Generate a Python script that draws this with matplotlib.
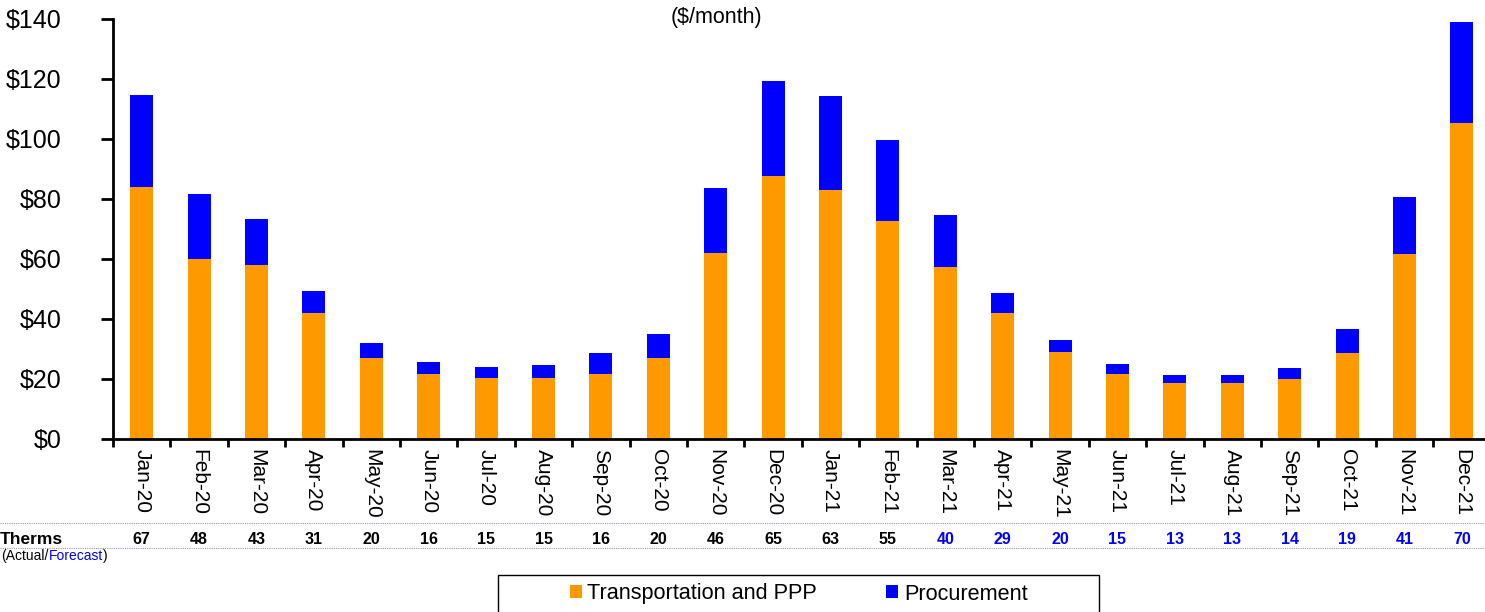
import matplotlib
matplotlib.use("Agg")
import matplotlib.pyplot as plt
from matplotlib.patches import Patch, Rectangle
from matplotlib.transforms import blended_transform_factory
from matplotlib.lines import Line2D

plt.rcParams['font.family'] = ['Liberation Sans', 'DejaVu Sans']

months = ["Jan-20", "Feb-20", "Mar-20", "Apr-20", "May-20", "Jun-20", "Jul-20", "Aug-20",
          "Sep-20", "Oct-20", "Nov-20", "Dec-20", "Jan-21", "Feb-21", "Mar-21", "Apr-21",
          "May-21", "Jun-21", "Jul-21", "Aug-21", "Sep-21", "Oct-21", "Nov-21", "Dec-21"]
transport = [84.0, 60.0, 58.0, 42.0, 27.0, 21.7, 20.3, 20.3, 21.7, 27.0, 62.0, 87.7,
             83.0, 72.7, 57.3, 41.9, 28.9, 21.6, 18.7, 18.7, 20.1, 28.8, 61.7, 105.4]
procurement = [30.7, 21.7, 15.3, 7.3, 5.0, 4.1, 3.8, 4.5, 6.9, 8.0, 21.7, 31.6,
               31.3, 27.0, 17.4, 6.7, 4.0, 3.3, 2.7, 2.5, 3.5, 7.8, 19.0, 33.6]
therms = [67, 48, 43, 31, 20, 16, 15, 15, 16, 20, 46, 65, 63, 55,
          40, 29, 20, 15, 13, 13, 14, 19, 41, 70]
is_forecast = [False] * 14 + [True] * 10
y_ticks = [0, 20, 40, 60, 80, 100, 120, 140]

ORANGE = "#FF9900"
BLUE = "#0000FF"
W, H = 1485, 612

fig = plt.figure(figsize=(W / 100, H / 100), dpi=100)
ax = fig.add_axes([113 / W, 1 - 439 / H, 1377.6 / W, 420 / H])

x = list(range(len(months)))
ax.bar(x, transport, width=0.40, color=ORANGE, zorder=2)
ax.bar(x, procurement, width=0.40, bottom=transport, color=BLUE, zorder=2)

ax.set_xlim(-0.5, len(months) - 0.5)
ax.set_ylim(0, 140)
ax.set_yticks(y_ticks)
ax.set_yticklabels([f"${v}" for v in y_ticks], fontsize=18)
ax.tick_params(axis='y', direction='out', length=9, width=2, pad=28)

# major ticks at category boundaries, labels at centers (minor)
ax.set_xticks([i - 0.5 for i in range(len(months) + 1)])
ax.set_xticklabels([])
ax.tick_params(axis='x', which='major', direction='out', length=6, width=2)
ax.set_xticks(x, minor=True)
ax.set_xticklabels(months, minor=True, rotation=-90, fontsize=15, ha='center', va='top')
ax.tick_params(axis='x', which='minor', length=0, pad=7)

for s in ['top', 'right']:
    ax.spines[s].set_visible(False)
ax.spines['left'].set_linewidth(2)
ax.spines['bottom'].set_linewidth(2)

# subtitle
fig.text(716 / W, 1 - 17 / H, "($/month)", fontsize=15.5, ha='center', va='center')

# Therms table row
for yy in (523, 548):
    fig.add_artist(Line2D([0, 1], [1 - yy / H, 1 - yy / H], transform=fig.transFigure,
                          color="#8a9abf", linestyle=(0, (1, 1)), linewidth=0.8))
fig.text(0 / W, 1 - 539 / H, "Therms", fontsize=12.5, fontweight='bold', ha='left', va='center')
trans = blended_transform_factory(ax.transData, fig.transFigure)
for i, (t, f) in enumerate(zip(therms, is_forecast)):
    ax.text(i, 1 - 539 / H, str(t), transform=trans, fontsize=11.5, fontweight='bold',
            ha='center', va='center', color=BLUE if f else "black", clip_on=False)

t1 = fig.text(1 / W, 1 - 556 / H, "(Actual/", fontsize=10, ha='left', va='center')
a2 = fig.add_artist(plt.Annotation("Forecast", xy=(1, 0), xycoords=t1, va='bottom',
                                   ha='left', fontsize=10, color=BLUE))
fig.add_artist(plt.Annotation(")", xy=(1, 0), xycoords=a2, va='bottom', ha='left', fontsize=10))

# legend
fig.add_artist(Rectangle((498 / W, -10 / H), (1099 - 498) / W, (612 - 575 + 10) / H,
                         transform=fig.transFigure, fill=False, edgecolor='black',
                         linewidth=1))
handles = [Patch(facecolor=ORANGE, label="Transportation and PPP"),
           Patch(facecolor=BLUE, label="Procurement")]
fig.legend(handles=handles, loc='center left', bbox_to_anchor=(570 / W, 1 - 594 / H),
           ncol=2, frameon=False, fontsize=15.6, handlelength=0.55, handleheight=0.55,
           handletextpad=0.25, columnspacing=3.2, borderpad=0, borderaxespad=0)

fig.savefig("out.png", dpi=100)
